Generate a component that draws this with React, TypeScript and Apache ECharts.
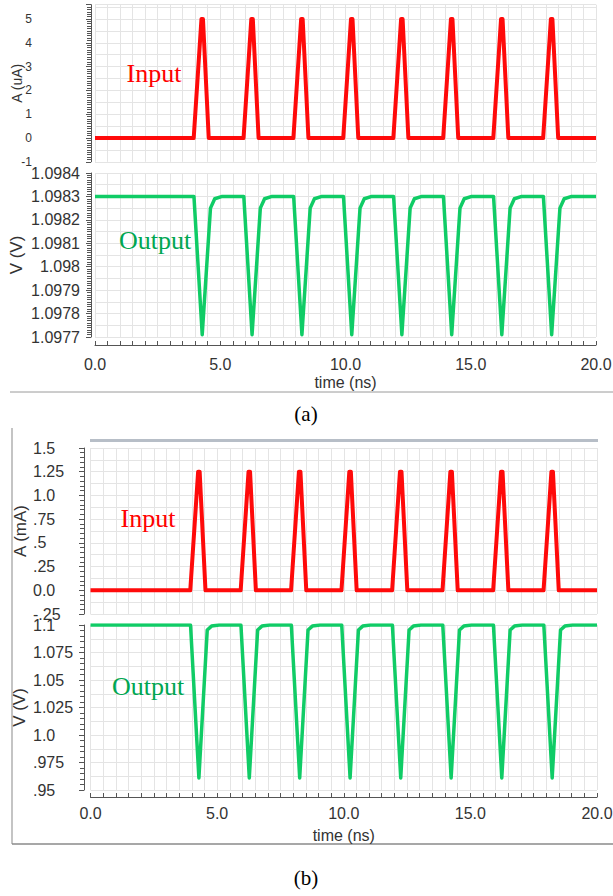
import React, { useEffect, useRef } from "react";
import * as echarts from "echarts";

// time (ns) samples of the input current pulses
const inputTime = [
  0,
  3.94, 4.25, 4.31, 4.54,
  5.93, 6.24, 6.3, 6.53,
  7.92, 8.23, 8.29, 8.52,
  9.91, 10.22, 10.28, 10.51,
  11.91, 12.22, 12.28, 12.51,
  13.9, 14.21, 14.27, 14.5,
  15.9, 16.21, 16.27, 16.5,
  17.89, 18.2, 18.26, 18.49,
  20,
];
// (a) input current, uA
const inputA = [
  0,
  0, 5, 5, 0,
  0, 5, 5, 0,
  0, 5, 5, 0,
  0, 5, 5, 0,
  0, 5, 5, 0,
  0, 5, 5, 0,
  0, 5, 5, 0,
  0, 5, 5, 0,
  0,
];
// (b) input current, mA
const inputB = [
  0,
  0, 1.25, 1.25, 0,
  0, 1.25, 1.25, 0,
  0, 1.25, 1.25, 0,
  0, 1.25, 1.25, 0,
  0, 1.25, 1.25, 0,
  0, 1.25, 1.25, 0,
  0, 1.25, 1.25, 0,
  0, 1.25, 1.25, 0,
  0,
];
// time (ns) samples of the output voltage
const outputTime = [
  0,
  3.95, 4.28, 4.61, 4.78, 5.08,
  5.94, 6.27, 6.6, 6.77, 7.07,
  7.93, 8.26, 8.59, 8.76, 9.06,
  9.92, 10.25, 10.58, 10.75, 11.05,
  11.92, 12.25, 12.58, 12.75, 13.05,
  13.91, 14.24, 14.57, 14.74, 15.04,
  15.91, 16.24, 16.57, 16.74, 17.04,
  17.9, 18.23, 18.56, 18.73, 19.03,
  20,
];
// (a) output voltage, V
const outputA = [
  1.0983,
  1.0983, 1.09771, 1.09825, 1.09829, 1.0983,
  1.0983, 1.09771, 1.09825, 1.09829, 1.0983,
  1.0983, 1.09771, 1.09825, 1.09829, 1.0983,
  1.0983, 1.09771, 1.09825, 1.09829, 1.0983,
  1.0983, 1.09771, 1.09825, 1.09829, 1.0983,
  1.0983, 1.09771, 1.09825, 1.09829, 1.0983,
  1.0983, 1.09771, 1.09825, 1.09829, 1.0983,
  1.0983, 1.09771, 1.09825, 1.09829, 1.0983,
  1.0983,
];
// (b) output voltage, V
const outputB = [
  1.1,
  1.1, 0.961, 1.0955, 1.099, 1.1,
  1.1, 0.961, 1.0955, 1.099, 1.1,
  1.1, 0.961, 1.0955, 1.099, 1.1,
  1.1, 0.961, 1.0955, 1.099, 1.1,
  1.1, 0.961, 1.0955, 1.099, 1.1,
  1.1, 0.961, 1.0955, 1.099, 1.1,
  1.1, 0.961, 1.0955, 1.099, 1.1,
  1.1, 0.961, 1.0955, 1.099, 1.1,
  1.1,
];

const GRID = "#e4e4e4";
const AXIS = "#555";
const LABEL = "#333";
const SANS = "Liberation Sans";
const SERIF = "Liberation Serif";

const zip = (t: number[], v: number[]) => t.map((x, i) => [x, v[i]]);

const fmtB = (v: number) => {
  const r = parseFloat(v.toFixed(3));
  if (Number.isInteger(r)) return r.toFixed(1);
  let s = String(r);
  if (Math.abs(r) < 1) s = s.replace("0.", ".");
  return s;
};
const fmtA2 = (v: number) => String(parseFloat(v.toFixed(4)));

export default function App() {
  const ref = useRef<HTMLDivElement>(null);
  useEffect(() => {
    if (!ref.current) return;
    const chart = echarts.init(ref.current, null, { renderer: "svg" });

    const grids = [
      { left: 95, right: 17, top: 4.7, height: 157.1 },
      { left: 95, right: 17, top: 173, height: 164 },
      { left: 90.5, right: 16, top: 448, height: 166 },
      { left: 90.5, right: 16, top: 625, height: 165 },
    ].map((g) => ({ ...g, containLabel: false, outerBoundsMode: "none" }));

    const xAxis = grids.map((_, i) => {
      const bottom = i === 1 || i === 3;
      return {
        type: "value",
        gridIndex: i,
        min: 0,
        max: 20,
        interval: 5,
        offset: bottom ? (i === 1 ? 8 : 7) : 0,
        axisLine: { show: bottom, lineStyle: { color: AXIS, width: 1 } },
        axisTick: { show: bottom, inside: true, length: 4, lineStyle: { color: AXIS } },
        minorTick: { show: bottom, splitNumber: 10, length: 4, lineStyle: { color: AXIS } },
        splitLine: { show: true, lineStyle: { color: GRID, width: 1 } },
        minorSplitLine: { show: true, lineStyle: { color: GRID, width: 1 } },
        axisLabel: {
          show: bottom,
          formatter: (v: number) => v.toFixed(1),
          fontFamily: SANS,
          fontSize: 16,
          color: LABEL,
          margin: i === 1 ? 11 : 8,
        },
        name: bottom ? "time (ns)" : "",
        nameLocation: "middle",
        nameGap: i === 1 ? 29 : 30,
        nameMoveOverlap: false,
        nameTextStyle: { fontFamily: SANS, fontSize: 16, color: LABEL },
      };
    });

    const yDefs = [
      { min: -1, max: 5.6, interval: 1, minorN: 10, offset: 4, name: "A (uA)", nameSize: 14, nameGap: 67, fontSize: 12, align: "right", margin: 59, fmt: (v: number) => String(Math.round(v)), hideMax: true },
      { min: 1.0977, max: 1.0984, interval: 0.0001, minorN: 10, offset: 4, name: "V (V)", nameSize: 17, nameGap: 66, fontSize: 16, align: "right", margin: 11, fmt: fmtA2, hideMax: false },
      { min: -0.25, max: 1.5, interval: 0.25, minorN: 5, offset: 6.5, name: "A (mA)", nameSize: 17, nameGap: 55, fontSize: 16, align: "left", margin: 51, fmt: fmtB, hideMax: false },
      { min: 0.95, max: 1.1, interval: 0.025, minorN: 5, offset: 6.5, name: "V (V)", nameSize: 17, nameGap: 56, fontSize: 16, align: "left", margin: 51, fmt: fmtB, hideMax: false },
    ];

    const yAxis: any[] = [];
    yDefs.forEach((d, i) => {
      // grid lines only
      yAxis.push({
        type: "value",
        gridIndex: i,
        min: d.min,
        max: d.max,
        interval: d.interval,
        axisLine: { show: false },
        axisTick: { show: false },
        axisLabel: { show: false },
        minorTick: { show: false, splitNumber: 2 },
        splitLine: { show: true, lineStyle: { color: GRID, width: 1 } },
        minorSplitLine: { show: true, lineStyle: { color: GRID, width: 1 } },
      });
      // axis ruler with labels
      yAxis.push({
        type: "value",
        gridIndex: i,
        position: "left",
        min: d.min,
        max: d.max,
        interval: d.interval,
        offset: d.offset,
        axisLine: { show: true, lineStyle: { color: AXIS, width: 1 } },
        axisTick: { show: true, length: 5, lineStyle: { color: AXIS } },
        minorTick: { show: true, splitNumber: d.minorN, length: 4, lineStyle: { color: AXIS } },
        splitLine: { show: false },
        axisLabel: {
          show: true,
          formatter: d.fmt,
          fontFamily: SANS,
          fontSize: d.fontSize,
          color: LABEL,
          align: d.align,
          margin: d.margin,
          showMaxLabel: !d.hideMax,
        },
        name: d.name,
        nameLocation: "middle",
        nameGap: d.nameGap,
        nameMoveOverlap: false,
        nameTextStyle: { fontFamily: SANS, fontSize: d.nameSize, color: LABEL },
      });
    });

    const RED = "#ff0a0a";
    const GREEN = "#10cc66";
    const series = [
      { data: zip(inputTime, inputA), color: RED, width: 4, g: 0 },
      { data: zip(outputTime, outputA), color: GREEN, width: 3.5, g: 1 },
      { data: zip(inputTime, inputB), color: RED, width: 4, g: 2 },
      { data: zip(outputTime, outputB), color: GREEN, width: 3.5, g: 3 },
    ].map((s) => ({
      type: "line",
      xAxisIndex: s.g,
      yAxisIndex: s.g * 2,
      data: s.data,
      showSymbol: false,
      symbol: "none",
      lineStyle: { color: s.color, width: s.width, join: "round" },
      itemStyle: { color: s.color },
      z: 5,
    }));

    const text = (x: number, y: number, t: string, color: string, size: number) => ({
      type: "text",
      x,
      y,
      style: {
        text: t,
        fill: color,
        fontFamily: SERIF,
        fontSize: size,
        textAlign: "center",
        textVerticalAlign: "middle",
      },
      z: 10,
    });

    const graphic = [
      text(154, 73, "Input", "#ff0000", 26),
      text(155, 240, "Output", "#00a651", 26),
      text(148, 518, "Input", "#ff0000", 26),
      text(148, 686, "Output", "#00a651", 26),
      text(306, 414, "(a)", "#000", 21),
      text(306, 878, "(b)", "#000", 21),
      { type: "line", shape: { x1: 10, y1: 392, x2: 613, y2: 392 }, style: { stroke: "#9a9a9a", lineWidth: 1 } },
      { type: "line", shape: { x1: 12, y1: 428, x2: 12, y2: 844 }, style: { stroke: "#b0b0b0", lineWidth: 1.5 } },
      { type: "line", shape: { x1: 12, y1: 844, x2: 613, y2: 844 }, style: { stroke: "#8a8a8a", lineWidth: 1.5 } },
      { type: "rect", shape: { x: 90, y: 439, width: 508, height: 3 }, style: { fill: "#b7bec7" } },
    ];

    chart.setOption({
      animation: false,
      backgroundColor: "#ffffff",
      grid: grids,
      xAxis,
      yAxis,
      series,
      graphic,
    } as any);

    return () => chart.dispose();
  }, []);

  return (
    <div
      ref={ref}
      style={{ position: "absolute", left: 0, top: 0, width: 613, height: 896, background: "#fff" }}
    />
  );
}
